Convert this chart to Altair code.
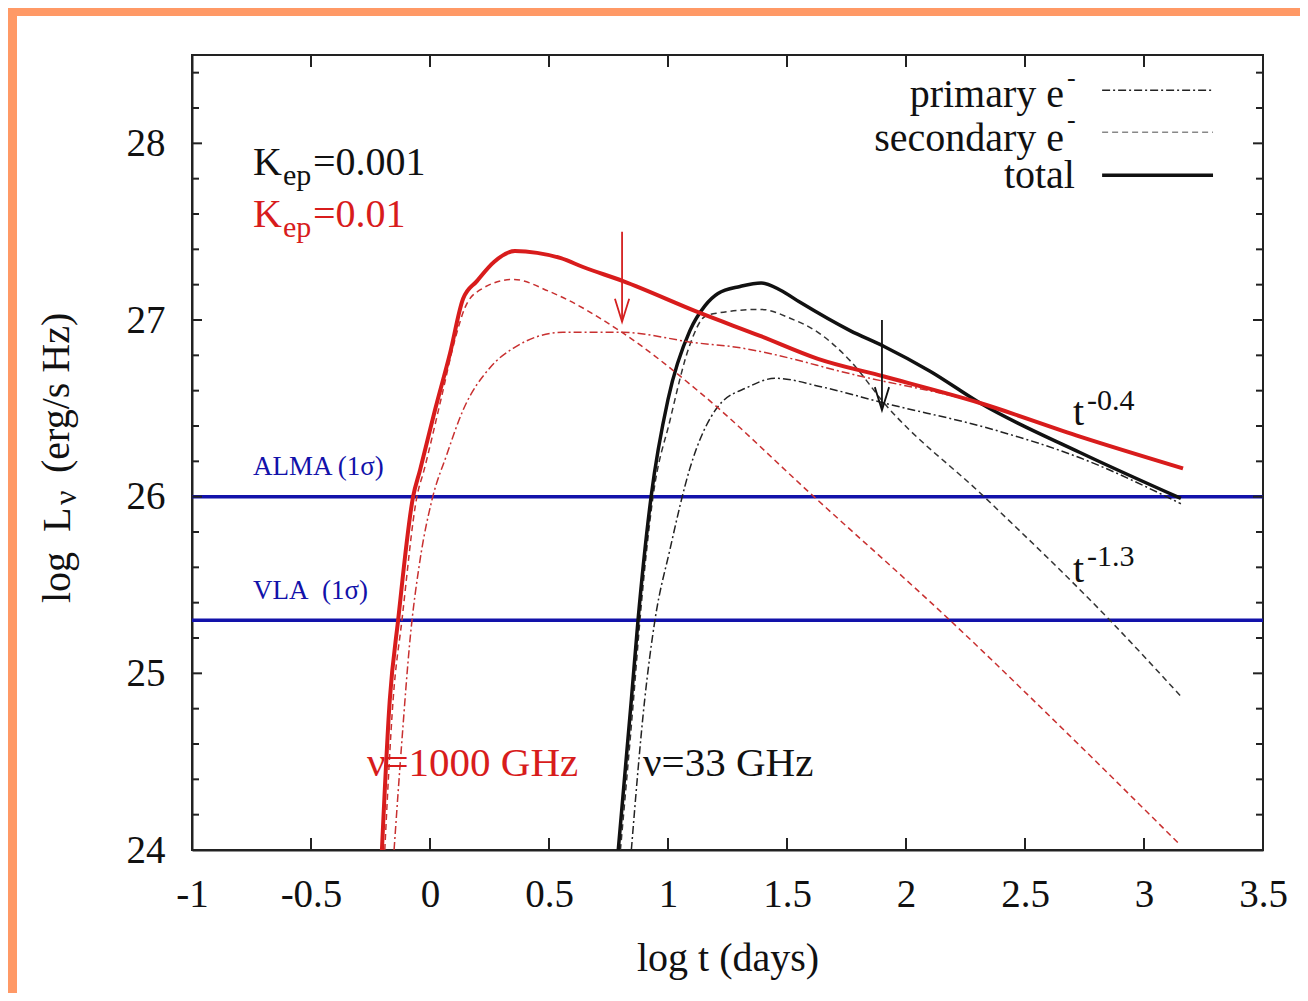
import altair as alt
import pandas as pd

# ---------------- data ----------------
# K_ep = 0.01, nu = 1000 GHz (red)
red_total_x = [-0.202, -0.169, -0.134, -0.071, -0.042, 0.021, 0.084, 0.139, 0.197, 0.270, 0.357, 0.450, 0.550, 0.643, 0.811, 1.134, 1.387, 1.630, 1.908, 2.311, 2.731, 3.164]
red_total_y = [24.00, 24.85, 25.30, 26.00, 26.15, 26.49, 26.81, 27.12, 27.22, 27.33, 27.39, 27.38, 27.35, 27.30, 27.22, 27.04, 26.91, 26.78, 26.68, 26.53, 26.34, 26.16]

red_sec_x = [-0.190, -0.155, -0.118, -0.055, -0.025, 0.046, 0.105, 0.147, 0.210, 0.349, 0.504, 0.807, 1.134, 1.613, 2.185, 2.731, 3.151]
red_sec_y = [24.00, 24.85, 25.30, 26.00, 26.15, 26.55, 26.89, 27.07, 27.17, 27.23, 27.16, 26.93, 26.59, 26.00, 25.30, 24.59, 24.03]

red_pri_x = [-0.151, -0.118, -0.084, -0.042, 0.008, 0.071, 0.139, 0.252, 0.349, 0.559, 0.807, 1.122, 1.265, 1.815, 2.311, 2.731, 3.155]
red_pri_y = [24.00, 24.62, 25.19, 25.64, 25.98, 26.24, 26.49, 26.73, 26.84, 26.93, 26.93, 26.87, 26.85, 26.68, 26.53, 26.34, 26.16]

# K_ep = 0.001, nu = 33 GHz (black)
blk_total_x = [0.791, 0.846, 0.874, 0.929, 1.000, 1.092, 1.155, 1.210, 1.303, 1.391, 1.471, 1.555, 1.765, 1.908, 2.101, 2.311, 2.731, 3.155]
blk_total_y = [24.00, 24.85, 25.30, 26.00, 26.55, 26.94, 27.08, 27.15, 27.19, 27.21, 27.17, 27.10, 26.94, 26.85, 26.71, 26.53, 26.25, 25.99]

blk_sec_x = [0.800, 0.855, 0.882, 0.937, 1.008, 1.092, 1.155, 1.210, 1.391, 1.513, 1.630, 1.765, 1.908, 2.328, 2.857, 3.155]
blk_sec_y = [24.00, 24.85, 25.30, 26.00, 26.43, 26.86, 27.02, 27.04, 27.06, 27.01, 26.93, 26.77, 26.53, 26.00, 25.30, 24.87]

blk_pri_x = [0.846, 0.902, 0.945, 1.008, 1.092, 1.210, 1.336, 1.450, 1.650, 1.908, 2.366, 2.731, 3.155]
blk_pri_y = [24.00, 24.85, 25.30, 25.70, 26.16, 26.51, 26.62, 26.67, 26.62, 26.53, 26.38, 26.22, 25.96]

# sensitivity levels
sens_names = ["ALMA (1σ)", "VLA\u00a0 (1σ)"]
sens_levels = [26.0, 25.3]

# arrows (x, y_start, y_tip)
arrow_x = [0.807, 1.899]
arrow_y0 = [27.50, 27.00]
arrow_y1 = [26.99, 26.49]
arrow_colors = ["#d42020", "#111111"]

# axis ticks
x_ticks = [-1, -0.5, 0, 0.5, 1, 1.5, 2, 2.5, 3, 3.5]
y_major = [24, 25, 26, 27, 28]
y_minor = [24.2, 24.4, 24.6, 24.8, 25.2, 25.4, 25.6, 25.8, 26.2, 26.4, 26.6, 26.8,
           27.2, 27.4, 27.6, 27.8, 28.2, 28.4]

# ---------------- layout ----------------
W, H = 1071, 795
FONT = "Liberation Serif"
RED = "#d81c1c"
RED_THIN = "#c83030"
BLUE = "#1212aa"

xscale = alt.Scale(domain=[-1, 3.5], nice=False, zero=False)
yscale = alt.Scale(domain=[24, 28.5], nice=False, zero=False)

xaxis = alt.Axis(values=x_ticks, grid=False, ticks=False, tickSize=0, domainColor="#222",
                 domainWidth=2, labelFont=FONT, labelFontSize=39, labelColor="#111",
                 labelPadding=25, labelFlush=False, labelOverlap=False,
                 labelExpr="datum.value < 0 ? '-' + format(-datum.value, '') : format(datum.value, '')",
                 title="log t (days)", titleFont=FONT, titleFontSize=40,
                 titleFontWeight="normal", titleColor="#111", titlePadding=24)
yaxis = alt.Axis(values=y_major, grid=False, ticks=False, tickSize=0, domainColor="#222",
                 domainWidth=2, labelFont=FONT, labelFontSize=39, labelColor="#111",
                 labelPadding=27, labelFlush=False, labelOverlap=False, title=None)


def X(f="x"):
    return alt.X(f"{f}:Q", scale=xscale, axis=xaxis)


def Y(f="y"):
    return alt.Y(f"{f}:Q", scale=yscale, axis=yaxis)


def curve(xs, ys, color, width, dash=None):
    df = pd.DataFrame({"x": xs, "y": ys})
    kw = dict(color=color, strokeWidth=width, interpolate="monotone", clip=True)
    if dash:
        kw["strokeDash"] = dash
    return alt.Chart(df).mark_line(**kw).encode(x=X(), y=Y())


def text(s, x, y, size=40, color="#111", align="left"):
    df = pd.DataFrame({"x": [x], "y": [y], "t": [s]})
    return alt.Chart(df).mark_text(font=FONT, fontSize=size, color=color, align=align,
                                   baseline="alphabetic").encode(x=X(), y=Y(), text="t:N")


one = pd.DataFrame({"a": [0]})

# decorative frame strips (orange border of the picture)
frame_left = alt.Chart(one).mark_rect(color="#ff9966").encode(
    x=alt.value(-184), x2=alt.value(-175), y=alt.value(-47), y2=alt.value(H + 143))
frame_top = alt.Chart(one).mark_rect(color="#ff9966").encode(
    x=alt.value(-184), x2=alt.value(W + 37), y=alt.value(-47), y2=alt.value(-39))

# sensitivity lines
sens_df = pd.DataFrame({"name": sens_names, "y": sens_levels})
sens = alt.Chart(sens_df).mark_rule(color=BLUE, strokeWidth=3.5).encode(y=Y())

# ticks (drawn inward like gnuplot)
xt = pd.DataFrame({"x": x_ticks})
ticks_bottom = alt.Chart(xt).mark_rule(color="#222", strokeWidth=2).encode(
    x=X(), y=alt.value(H), y2=alt.value(H - 12))
ticks_top = alt.Chart(xt).mark_rule(color="#222", strokeWidth=2).encode(
    x=X(), y=alt.value(0), y2=alt.value(12))
ymj = pd.DataFrame({"y": y_major})
ymn = pd.DataFrame({"y": y_minor})
ticks_l_maj = alt.Chart(ymj).mark_rule(color="#222", strokeWidth=2).encode(
    y=Y(), x=alt.value(0), x2=alt.value(10))
ticks_r_maj = alt.Chart(ymj).mark_rule(color="#222", strokeWidth=2).encode(
    y=Y(), x=alt.value(W - 10), x2=alt.value(W))
ticks_l_min = alt.Chart(ymn).mark_rule(color="#222", strokeWidth=2).encode(
    y=Y(), x=alt.value(0), x2=alt.value(7))
ticks_r_min = alt.Chart(ymn).mark_rule(color="#222", strokeWidth=2).encode(
    y=Y(), x=alt.value(W - 7), x2=alt.value(W))

PRI_DASH = [8, 3, 2, 3]
SEC_DASH = [6, 4]

curves = [
    curve(blk_pri_x, blk_pri_y, "#222", 1.5, PRI_DASH),
    curve(blk_sec_x, blk_sec_y, "#333", 1.5, SEC_DASH),
    curve(blk_total_x, blk_total_y, "#111", 3.5),
    curve(red_pri_x, red_pri_y, RED_THIN, 1.5, PRI_DASH),
    curve(red_sec_x, red_sec_y, RED_THIN, 1.5, SEC_DASH),
    curve(red_total_x, red_total_y, RED, 4),
]

# arrows
arrows = []
for ax, a0, a1, col in zip(arrow_x, arrow_y0, arrow_y1, arrow_colors):
    shaft = pd.DataFrame({"x": [ax], "y": [a0], "y2": [a1]})
    arrows.append(alt.Chart(shaft).mark_rule(color=col, strokeWidth=1.8).encode(
        x=X(), y=Y(), y2="y2:Q"))
    head = pd.DataFrame({"x": [ax - 0.03, ax, ax + 0.03], "y": [a1 + 0.13, a1, a1 + 0.13],
                         "o": [0, 1, 2]})
    arrows.append(alt.Chart(head).mark_line(color=col, strokeWidth=1.8).encode(
        x=X(), y=Y(), order="o:Q"))

# legend (top right)
leg_df = pd.DataFrame({"x": [2.824] * 3, "x2": [3.290] * 3, "y": [28.30, 28.063, 27.82]})
leg = [
    alt.Chart(leg_df.iloc[[0]]).mark_rule(color="#222", strokeWidth=1.5, strokeDash=PRI_DASH).encode(x=X(), x2="x2:Q", y=Y()),
    alt.Chart(leg_df.iloc[[1]]).mark_rule(color="#888", strokeWidth=1.5, strokeDash=SEC_DASH).encode(x=X(), x2="x2:Q", y=Y()),
    alt.Chart(leg_df.iloc[[2]]).mark_rule(color="#111", strokeWidth=3.5).encode(x=X(), x2="x2:Q", y=Y()),
    text("primary e", 2.664, 28.205, align="right"),
    text("-", 2.676, 28.327, size=26),
    text("secondary e", 2.664, 27.956, align="right"),
    text("-", 2.676, 28.089, size=26),
    text("total", 2.710, 27.746, align="right"),
]

labels = [
    text("K", -0.744, 27.82),
    text("ep", -0.618, 27.763, size=30),
    text("=0.001", -0.492, 27.82),
    text("K", -0.744, 27.526, color=RED),
    text("ep", -0.618, 27.47, size=30, color=RED),
    text("=0.01", -0.492, 27.526, color=RED),
    text("ν=1000 GHz", -0.265, 24.42, size=41, color=RED),
    text("ν=33 GHz", 0.895, 24.42, size=41),
    text(sens_names[0], -0.744, 26.12, size=27, color=BLUE),
    text(sens_names[1], -0.744, 25.42, size=27, color=BLUE),
    text("t", 2.702, 26.405),
    text("-0.4", 2.761, 26.49, size=30),
    text("t", 2.702, 25.517),
    text("-1.3", 2.761, 25.607, size=30),
]

# y-axis title built from pieces (subscript nu)
def ytitle(s, px, py, size):
    df = pd.DataFrame({"t": [s]})
    return alt.Chart(df).mark_text(font=FONT, fontSize=size, color="#111", angle=270,
                                   align="left", baseline="alphabetic").encode(
        x=alt.value(px), y=alt.value(py), text="t:N")

ytitles = [
    ytitle("log\u00a0 L", -122, 548, 40),
    ytitle("ν", -116, 450, 32),
    ytitle("(erg/s Hz)", -123, 418, 40),
]

chart = alt.layer(
    frame_left, frame_top, sens, *curves, *arrows, *leg, *labels, *ytitles,
    ticks_bottom, ticks_top, ticks_l_maj, ticks_r_maj, ticks_l_min, ticks_r_min,
).properties(
    width=W, height=H,
    autosize=alt.AutoSizeParams(type="none"),
    padding={"left": 184, "top": 47, "right": 37, "bottom": 143},
    background="white",
).configure_view(stroke="#222", strokeWidth=2)

chart.save("out.html", embed_options={"renderer": "svg", "actions": False})
